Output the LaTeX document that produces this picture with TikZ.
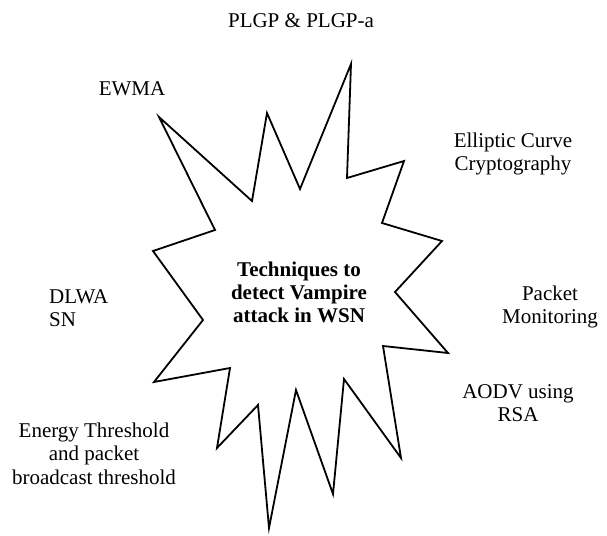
\documentclass[tikz,border=0pt]{standalone}
\usepackage{fontspec}
\setmainfont{Liberation Serif}
\newcommand{\lblc}[1]{\begin{tabular}[t]{@{}c@{}}#1\end{tabular}}
\newcommand{\lbll}[1]{\begin{tabular}[t]{@{}l@{}}#1\end{tabular}}
\begin{document}
\begin{tikzpicture}[x=1pt,y=-1pt,
  lbl/.style={inner sep=0pt,anchor=base,font=\fontsize{21}{23.5}\selectfont},
  starline/.style={draw=black,line width=1.8pt,line join=miter}]
\useasboundingbox (0,0) rectangle (607,535);
\draw[starline] (159,117) -- (252,201) -- (267,113) -- (300,189) -- (351,64)
  -- (347,178) -- (404,161) -- (382,223) -- (442,241) -- (395,292)
  -- (448,353) -- (383,346) -- (401,458) -- (344,379) -- (333,494)
  -- (296,390) -- (269,528) -- (258,405) -- (217,448) -- (230,368)
  -- (154,382) -- (203,320) -- (153,251) -- (215,230) -- cycle;
\node[lbl,font=\fontsize{21}{23}\selectfont\bfseries] (title) at (299,276) {\lblc{Techniques to\\detect Vampire\\attack in WSN}};
\node[lbl] (plgp) at (301,28) {PLGP \& PLGP-a};
\node[lbl] (ewma) at (132,95) {EWMA};
\node[lbl] (ecc) at (513,147) {\lblc{Elliptic Curve\\Cryptography}};
\node[lbl] (pm) at (550,300) {\lblc{Packet\\Monitoring}};
\node[lbl] (aodv) at (518,398) {\lblc{AODV using\\RSA}};
\node[lbl] (energy) at (94,437) {\lblc{Energy Threshold\\and packet\\broadcast threshold}};
\node[lbl,anchor=base west] (dlwa) at (49,303) {\lbll{DLWA\\SN}};
\end{tikzpicture}
\end{document}
